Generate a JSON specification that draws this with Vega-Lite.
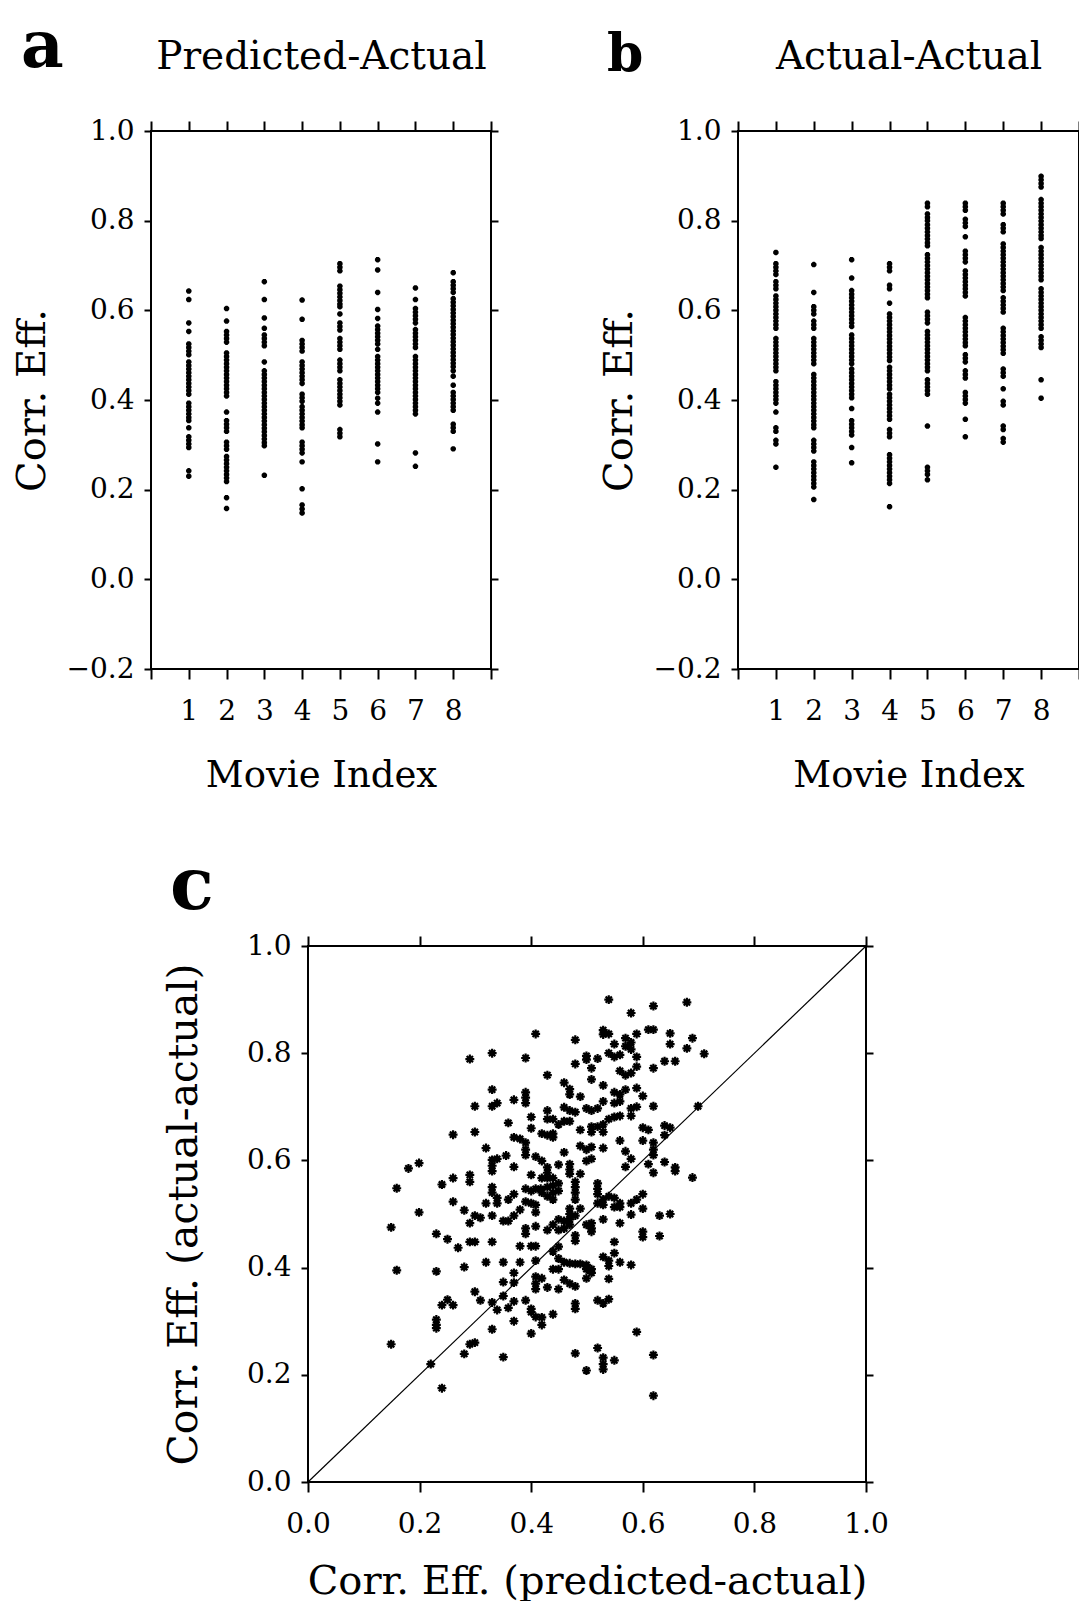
{
"$schema":"https://vega.github.io/schema/vega-lite/v6.json",
"padding":{"left":11,"top":13,"right":0,"bottom":0},
"background":"white",
"config":{"view":{"stroke":null},"font":"DejaVu Serif",
"axis":{"domain":false,"grid":false,"tickColor":"black","tickWidth":2,"labelColor":"black","titleColor":"black","labelFont":"DejaVu Serif","titleFont":"DejaVu Serif","labelFontSize":28,"titleFontSize":37,"titleFontWeight":"normal","labelFlush":false,"labelOverlap":false,"labelBound":false},
"title":{"font":"DejaVu Serif","color":"black"}},
"datasets":{
"pa":[
{"m":1,"r":0.643},{"m":1,"r":0.624},{"m":1,"r":0.572},{"m":1,"r":0.553},{"m":1,"r":0.525},{"m":1,"r":0.517},{"m":1,"r":0.509},{"m":1,"r":0.501},{"m":1,"r":0.485},{"m":1,"r":0.477},{"m":1,"r":0.469},{"m":1,"r":0.461},{"m":1,"r":0.453},{"m":1,"r":0.445},{"m":1,"r":0.437},{"m":1,"r":0.429},{"m":1,"r":0.421},{"m":1,"r":0.413},{"m":1,"r":0.393},{"m":1,"r":0.385},{"m":1,"r":0.377},{"m":1,"r":0.369},{"m":1,"r":0.361},{"m":1,"r":0.354},{"m":1,"r":0.338},{"m":1,"r":0.318},{"m":1,"r":0.31},{"m":1,"r":0.302},{"m":1,"r":0.294},{"m":1,"r":0.242},{"m":1,"r":0.23},
{"m":2,"r":0.604},{"m":2,"r":0.576},{"m":2,"r":0.553},{"m":2,"r":0.545},{"m":2,"r":0.537},{"m":2,"r":0.529},{"m":2,"r":0.505},{"m":2,"r":0.497},{"m":2,"r":0.489},{"m":2,"r":0.481},{"m":2,"r":0.473},{"m":2,"r":0.465},{"m":2,"r":0.457},{"m":2,"r":0.449},{"m":2,"r":0.441},{"m":2,"r":0.433},{"m":2,"r":0.425},{"m":2,"r":0.417},{"m":2,"r":0.409},{"m":2,"r":0.373},{"m":2,"r":0.354},{"m":2,"r":0.346},{"m":2,"r":0.338},{"m":2,"r":0.33},{"m":2,"r":0.306},{"m":2,"r":0.298},{"m":2,"r":0.29},{"m":2,"r":0.274},{"m":2,"r":0.266},{"m":2,"r":0.258},{"m":2,"r":0.25},{"m":2,"r":0.242},{"m":2,"r":0.234},{"m":2,"r":0.226},{"m":2,"r":0.218},{"m":2,"r":0.182},{"m":2,"r":0.158},
{"m":3,"r":0.664},{"m":3,"r":0.624},{"m":3,"r":0.583},{"m":3,"r":0.56},{"m":3,"r":0.545},{"m":3,"r":0.537},{"m":3,"r":0.529},{"m":3,"r":0.521},{"m":3,"r":0.485},{"m":3,"r":0.465},{"m":3,"r":0.457},{"m":3,"r":0.449},{"m":3,"r":0.441},{"m":3,"r":0.433},{"m":3,"r":0.425},{"m":3,"r":0.417},{"m":3,"r":0.409},{"m":3,"r":0.401},{"m":3,"r":0.393},{"m":3,"r":0.385},{"m":3,"r":0.377},{"m":3,"r":0.369},{"m":3,"r":0.361},{"m":3,"r":0.353},{"m":3,"r":0.345},{"m":3,"r":0.337},{"m":3,"r":0.329},{"m":3,"r":0.321},{"m":3,"r":0.313},{"m":3,"r":0.305},{"m":3,"r":0.298},{"m":3,"r":0.232},
{"m":4,"r":0.623},{"m":4,"r":0.58},{"m":4,"r":0.533},{"m":4,"r":0.525},{"m":4,"r":0.517},{"m":4,"r":0.509},{"m":4,"r":0.485},{"m":4,"r":0.477},{"m":4,"r":0.469},{"m":4,"r":0.461},{"m":4,"r":0.453},{"m":4,"r":0.445},{"m":4,"r":0.437},{"m":4,"r":0.413},{"m":4,"r":0.405},{"m":4,"r":0.397},{"m":4,"r":0.385},{"m":4,"r":0.377},{"m":4,"r":0.369},{"m":4,"r":0.361},{"m":4,"r":0.353},{"m":4,"r":0.345},{"m":4,"r":0.338},{"m":4,"r":0.306},{"m":4,"r":0.298},{"m":4,"r":0.29},{"m":4,"r":0.282},{"m":4,"r":0.262},{"m":4,"r":0.202},{"m":4,"r":0.166},{"m":4,"r":0.157},{"m":4,"r":0.148},
{"m":5,"r":0.704},{"m":5,"r":0.696},{"m":5,"r":0.688},{"m":5,"r":0.654},{"m":5,"r":0.646},{"m":5,"r":0.638},{"m":5,"r":0.63},{"m":5,"r":0.622},{"m":5,"r":0.614},{"m":5,"r":0.608},{"m":5,"r":0.592},{"m":5,"r":0.572},{"m":5,"r":0.564},{"m":5,"r":0.556},{"m":5,"r":0.537},{"m":5,"r":0.529},{"m":5,"r":0.521},{"m":5,"r":0.513},{"m":5,"r":0.489},{"m":5,"r":0.481},{"m":5,"r":0.473},{"m":5,"r":0.465},{"m":5,"r":0.445},{"m":5,"r":0.437},{"m":5,"r":0.429},{"m":5,"r":0.421},{"m":5,"r":0.413},{"m":5,"r":0.405},{"m":5,"r":0.397},{"m":5,"r":0.389},{"m":5,"r":0.334},{"m":5,"r":0.326},{"m":5,"r":0.318},
{"m":6,"r":0.713},{"m":6,"r":0.69},{"m":6,"r":0.64},{"m":6,"r":0.602},{"m":6,"r":0.582},{"m":6,"r":0.565},{"m":6,"r":0.557},{"m":6,"r":0.549},{"m":6,"r":0.541},{"m":6,"r":0.533},{"m":6,"r":0.525},{"m":6,"r":0.513},{"m":6,"r":0.497},{"m":6,"r":0.489},{"m":6,"r":0.481},{"m":6,"r":0.473},{"m":6,"r":0.465},{"m":6,"r":0.457},{"m":6,"r":0.449},{"m":6,"r":0.441},{"m":6,"r":0.433},{"m":6,"r":0.425},{"m":6,"r":0.417},{"m":6,"r":0.404},{"m":6,"r":0.393},{"m":6,"r":0.373},{"m":6,"r":0.302},{"m":6,"r":0.262},
{"m":7,"r":0.65},{"m":7,"r":0.624},{"m":7,"r":0.604},{"m":7,"r":0.596},{"m":7,"r":0.588},{"m":7,"r":0.58},{"m":7,"r":0.572},{"m":7,"r":0.557},{"m":7,"r":0.549},{"m":7,"r":0.541},{"m":7,"r":0.533},{"m":7,"r":0.525},{"m":7,"r":0.517},{"m":7,"r":0.497},{"m":7,"r":0.489},{"m":7,"r":0.481},{"m":7,"r":0.473},{"m":7,"r":0.465},{"m":7,"r":0.457},{"m":7,"r":0.449},{"m":7,"r":0.441},{"m":7,"r":0.433},{"m":7,"r":0.425},{"m":7,"r":0.417},{"m":7,"r":0.409},{"m":7,"r":0.401},{"m":7,"r":0.393},{"m":7,"r":0.385},{"m":7,"r":0.377},{"m":7,"r":0.369},{"m":7,"r":0.282},{"m":7,"r":0.252},
{"m":8,"r":0.684},{"m":8,"r":0.664},{"m":8,"r":0.656},{"m":8,"r":0.648},{"m":8,"r":0.64},{"m":8,"r":0.626},{"m":8,"r":0.618},{"m":8,"r":0.61},{"m":8,"r":0.602},{"m":8,"r":0.594},{"m":8,"r":0.586},{"m":8,"r":0.578},{"m":8,"r":0.57},{"m":8,"r":0.562},{"m":8,"r":0.554},{"m":8,"r":0.546},{"m":8,"r":0.538},{"m":8,"r":0.53},{"m":8,"r":0.522},{"m":8,"r":0.514},{"m":8,"r":0.506},{"m":8,"r":0.498},{"m":8,"r":0.49},{"m":8,"r":0.482},{"m":8,"r":0.474},{"m":8,"r":0.465},{"m":8,"r":0.453},{"m":8,"r":0.433},{"m":8,"r":0.417},{"m":8,"r":0.409},{"m":8,"r":0.401},{"m":8,"r":0.393},{"m":8,"r":0.385},{"m":8,"r":0.377},{"m":8,"r":0.346},{"m":8,"r":0.338},{"m":8,"r":0.33},{"m":8,"r":0.291}
],
"pb":[
{"m":1,"r":0.729},{"m":1,"r":0.704},{"m":1,"r":0.696},{"m":1,"r":0.688},{"m":1,"r":0.68},{"m":1,"r":0.664},{"m":1,"r":0.656},{"m":1,"r":0.648},{"m":1,"r":0.632},{"m":1,"r":0.624},{"m":1,"r":0.616},{"m":1,"r":0.608},{"m":1,"r":0.6},{"m":1,"r":0.592},{"m":1,"r":0.584},{"m":1,"r":0.576},{"m":1,"r":0.568},{"m":1,"r":0.56},{"m":1,"r":0.537},{"m":1,"r":0.529},{"m":1,"r":0.521},{"m":1,"r":0.513},{"m":1,"r":0.505},{"m":1,"r":0.497},{"m":1,"r":0.489},{"m":1,"r":0.481},{"m":1,"r":0.473},{"m":1,"r":0.465},{"m":1,"r":0.441},{"m":1,"r":0.433},{"m":1,"r":0.425},{"m":1,"r":0.417},{"m":1,"r":0.409},{"m":1,"r":0.401},{"m":1,"r":0.393},{"m":1,"r":0.373},{"m":1,"r":0.338},{"m":1,"r":0.33},{"m":1,"r":0.31},{"m":1,"r":0.302},{"m":1,"r":0.25},
{"m":2,"r":0.702},{"m":2,"r":0.64},{"m":2,"r":0.608},{"m":2,"r":0.6},{"m":2,"r":0.592},{"m":2,"r":0.576},{"m":2,"r":0.568},{"m":2,"r":0.56},{"m":2,"r":0.537},{"m":2,"r":0.529},{"m":2,"r":0.521},{"m":2,"r":0.513},{"m":2,"r":0.505},{"m":2,"r":0.497},{"m":2,"r":0.489},{"m":2,"r":0.481},{"m":2,"r":0.457},{"m":2,"r":0.449},{"m":2,"r":0.441},{"m":2,"r":0.433},{"m":2,"r":0.425},{"m":2,"r":0.417},{"m":2,"r":0.409},{"m":2,"r":0.401},{"m":2,"r":0.393},{"m":2,"r":0.385},{"m":2,"r":0.377},{"m":2,"r":0.369},{"m":2,"r":0.361},{"m":2,"r":0.353},{"m":2,"r":0.345},{"m":2,"r":0.338},{"m":2,"r":0.31},{"m":2,"r":0.302},{"m":2,"r":0.294},{"m":2,"r":0.286},{"m":2,"r":0.262},{"m":2,"r":0.254},{"m":2,"r":0.246},{"m":2,"r":0.238},{"m":2,"r":0.23},{"m":2,"r":0.222},{"m":2,"r":0.214},{"m":2,"r":0.206},{"m":2,"r":0.178},
{"m":3,"r":0.713},{"m":3,"r":0.672},{"m":3,"r":0.644},{"m":3,"r":0.636},{"m":3,"r":0.628},{"m":3,"r":0.62},{"m":3,"r":0.612},{"m":3,"r":0.604},{"m":3,"r":0.596},{"m":3,"r":0.588},{"m":3,"r":0.58},{"m":3,"r":0.572},{"m":3,"r":0.564},{"m":3,"r":0.545},{"m":3,"r":0.537},{"m":3,"r":0.529},{"m":3,"r":0.521},{"m":3,"r":0.513},{"m":3,"r":0.505},{"m":3,"r":0.497},{"m":3,"r":0.489},{"m":3,"r":0.481},{"m":3,"r":0.469},{"m":3,"r":0.461},{"m":3,"r":0.453},{"m":3,"r":0.445},{"m":3,"r":0.437},{"m":3,"r":0.429},{"m":3,"r":0.421},{"m":3,"r":0.413},{"m":3,"r":0.405},{"m":3,"r":0.381},{"m":3,"r":0.354},{"m":3,"r":0.346},{"m":3,"r":0.338},{"m":3,"r":0.33},{"m":3,"r":0.322},{"m":3,"r":0.294},{"m":3,"r":0.26},
{"m":4,"r":0.704},{"m":4,"r":0.696},{"m":4,"r":0.688},{"m":4,"r":0.656},{"m":4,"r":0.648},{"m":4,"r":0.616},{"m":4,"r":0.592},{"m":4,"r":0.584},{"m":4,"r":0.576},{"m":4,"r":0.568},{"m":4,"r":0.56},{"m":4,"r":0.552},{"m":4,"r":0.544},{"m":4,"r":0.536},{"m":4,"r":0.528},{"m":4,"r":0.52},{"m":4,"r":0.512},{"m":4,"r":0.504},{"m":4,"r":0.496},{"m":4,"r":0.488},{"m":4,"r":0.473},{"m":4,"r":0.465},{"m":4,"r":0.457},{"m":4,"r":0.449},{"m":4,"r":0.441},{"m":4,"r":0.433},{"m":4,"r":0.425},{"m":4,"r":0.413},{"m":4,"r":0.405},{"m":4,"r":0.397},{"m":4,"r":0.389},{"m":4,"r":0.381},{"m":4,"r":0.373},{"m":4,"r":0.365},{"m":4,"r":0.357},{"m":4,"r":0.334},{"m":4,"r":0.326},{"m":4,"r":0.318},{"m":4,"r":0.278},{"m":4,"r":0.27},{"m":4,"r":0.262},{"m":4,"r":0.254},{"m":4,"r":0.246},{"m":4,"r":0.238},{"m":4,"r":0.23},{"m":4,"r":0.222},{"m":4,"r":0.214},{"m":4,"r":0.162},
{"m":5,"r":0.839},{"m":5,"r":0.831},{"m":5,"r":0.815},{"m":5,"r":0.807},{"m":5,"r":0.8},{"m":5,"r":0.791},{"m":5,"r":0.783},{"m":5,"r":0.775},{"m":5,"r":0.767},{"m":5,"r":0.759},{"m":5,"r":0.751},{"m":5,"r":0.744},{"m":5,"r":0.724},{"m":5,"r":0.716},{"m":5,"r":0.708},{"m":5,"r":0.7},{"m":5,"r":0.692},{"m":5,"r":0.684},{"m":5,"r":0.676},{"m":5,"r":0.668},{"m":5,"r":0.66},{"m":5,"r":0.652},{"m":5,"r":0.644},{"m":5,"r":0.636},{"m":5,"r":0.628},{"m":5,"r":0.596},{"m":5,"r":0.588},{"m":5,"r":0.58},{"m":5,"r":0.572},{"m":5,"r":0.553},{"m":5,"r":0.545},{"m":5,"r":0.537},{"m":5,"r":0.529},{"m":5,"r":0.521},{"m":5,"r":0.513},{"m":5,"r":0.505},{"m":5,"r":0.497},{"m":5,"r":0.489},{"m":5,"r":0.481},{"m":5,"r":0.473},{"m":5,"r":0.465},{"m":5,"r":0.445},{"m":5,"r":0.437},{"m":5,"r":0.429},{"m":5,"r":0.421},{"m":5,"r":0.413},{"m":5,"r":0.342},{"m":5,"r":0.25},{"m":5,"r":0.242},{"m":5,"r":0.234},{"m":5,"r":0.222},
{"m":6,"r":0.839},{"m":6,"r":0.831},{"m":6,"r":0.823},{"m":6,"r":0.803},{"m":6,"r":0.795},{"m":6,"r":0.787},{"m":6,"r":0.764},{"m":6,"r":0.732},{"m":6,"r":0.724},{"m":6,"r":0.716},{"m":6,"r":0.708},{"m":6,"r":0.688},{"m":6,"r":0.68},{"m":6,"r":0.672},{"m":6,"r":0.664},{"m":6,"r":0.656},{"m":6,"r":0.648},{"m":6,"r":0.64},{"m":6,"r":0.632},{"m":6,"r":0.584},{"m":6,"r":0.576},{"m":6,"r":0.568},{"m":6,"r":0.56},{"m":6,"r":0.552},{"m":6,"r":0.544},{"m":6,"r":0.536},{"m":6,"r":0.528},{"m":6,"r":0.521},{"m":6,"r":0.501},{"m":6,"r":0.493},{"m":6,"r":0.485},{"m":6,"r":0.465},{"m":6,"r":0.457},{"m":6,"r":0.449},{"m":6,"r":0.417},{"m":6,"r":0.409},{"m":6,"r":0.401},{"m":6,"r":0.393},{"m":6,"r":0.357},{"m":6,"r":0.318},
{"m":7,"r":0.839},{"m":7,"r":0.831},{"m":7,"r":0.823},{"m":7,"r":0.815},{"m":7,"r":0.791},{"m":7,"r":0.783},{"m":7,"r":0.775},{"m":7,"r":0.748},{"m":7,"r":0.74},{"m":7,"r":0.732},{"m":7,"r":0.724},{"m":7,"r":0.716},{"m":7,"r":0.708},{"m":7,"r":0.7},{"m":7,"r":0.692},{"m":7,"r":0.684},{"m":7,"r":0.676},{"m":7,"r":0.668},{"m":7,"r":0.66},{"m":7,"r":0.652},{"m":7,"r":0.644},{"m":7,"r":0.628},{"m":7,"r":0.62},{"m":7,"r":0.612},{"m":7,"r":0.604},{"m":7,"r":0.596},{"m":7,"r":0.56},{"m":7,"r":0.552},{"m":7,"r":0.544},{"m":7,"r":0.536},{"m":7,"r":0.528},{"m":7,"r":0.52},{"m":7,"r":0.512},{"m":7,"r":0.504},{"m":7,"r":0.469},{"m":7,"r":0.461},{"m":7,"r":0.453},{"m":7,"r":0.425},{"m":7,"r":0.397},{"m":7,"r":0.389},{"m":7,"r":0.342},{"m":7,"r":0.334},{"m":7,"r":0.314},{"m":7,"r":0.306},
{"m":8,"r":0.899},{"m":8,"r":0.891},{"m":8,"r":0.883},{"m":8,"r":0.875},{"m":8,"r":0.847},{"m":8,"r":0.839},{"m":8,"r":0.831},{"m":8,"r":0.823},{"m":8,"r":0.815},{"m":8,"r":0.807},{"m":8,"r":0.799},{"m":8,"r":0.791},{"m":8,"r":0.783},{"m":8,"r":0.775},{"m":8,"r":0.767},{"m":8,"r":0.76},{"m":8,"r":0.74},{"m":8,"r":0.732},{"m":8,"r":0.724},{"m":8,"r":0.716},{"m":8,"r":0.708},{"m":8,"r":0.7},{"m":8,"r":0.692},{"m":8,"r":0.684},{"m":8,"r":0.676},{"m":8,"r":0.668},{"m":8,"r":0.648},{"m":8,"r":0.64},{"m":8,"r":0.632},{"m":8,"r":0.624},{"m":8,"r":0.616},{"m":8,"r":0.608},{"m":8,"r":0.6},{"m":8,"r":0.592},{"m":8,"r":0.584},{"m":8,"r":0.576},{"m":8,"r":0.568},{"m":8,"r":0.56},{"m":8,"r":0.541},{"m":8,"r":0.533},{"m":8,"r":0.525},{"m":8,"r":0.517},{"m":8,"r":0.445},{"m":8,"r":0.404}
],
"pc":[
{"x":0.539,"y":0.9},{"x":0.619,"y":0.888},{"x":0.679,"y":0.895},{"x":0.579,"y":0.875},{"x":0.408,"y":0.836},{"x":0.479,"y":0.825},{"x":0.529,"y":0.843},{"x":0.529,"y":0.835},{"x":0.539,"y":0.836},{"x":0.61,"y":0.844},{"x":0.619,"y":0.844},{"x":0.589,"y":0.836},{"x":0.649,"y":0.837},{"x":0.649,"y":0.817},{"x":0.689,"y":0.828},{"x":0.679,"y":0.809},{"x":0.71,"y":0.799},{"x":0.569,"y":0.828},{"x":0.579,"y":0.82},{"x":0.569,"y":0.813},{"x":0.549,"y":0.817},{"x":0.559,"y":0.797},{"x":0.549,"y":0.793},{"x":0.539,"y":0.8},{"x":0.579,"y":0.807},{"x":0.589,"y":0.793},{"x":0.29,"y":0.789},{"x":0.33,"y":0.8},{"x":0.39,"y":0.791},{"x":0.499,"y":0.795},{"x":0.499,"y":0.788},{"x":0.519,"y":0.79},{"x":0.479,"y":0.78},{"x":0.508,"y":0.772},{"x":0.639,"y":0.785},{"x":0.658,"y":0.785},{"x":0.619,"y":0.772},{"x":0.589,"y":0.775},{"x":0.559,"y":0.767},{"x":0.569,"y":0.759},{"x":0.579,"y":0.763},{"x":0.429,"y":0.759},{"x":0.508,"y":0.751},{"x":0.459,"y":0.745},{"x":0.469,"y":0.733},{"x":0.469,"y":0.723},{"x":0.529,"y":0.74},{"x":0.488,"y":0.719},{"x":0.569,"y":0.732},{"x":0.559,"y":0.723},{"x":0.549,"y":0.727},{"x":0.589,"y":0.735},{"x":0.6,"y":0.72},{"x":0.33,"y":0.732},{"x":0.39,"y":0.727},{"x":0.39,"y":0.717},{"x":0.39,"y":0.707},{"x":0.369,"y":0.713},{"x":0.339,"y":0.707},{"x":0.33,"y":0.701},{"x":0.299,"y":0.701},{"x":0.619,"y":0.701},{"x":0.549,"y":0.707},{"x":0.559,"y":0.71},{"x":0.529,"y":0.71},{"x":0.519,"y":0.697},{"x":0.508,"y":0.693},{"x":0.499,"y":0.697},{"x":0.479,"y":0.69},{"x":0.469,"y":0.693},{"x":0.459,"y":0.699},{"x":0.579,"y":0.697},{"x":0.589,"y":0.7},{"x":0.579,"y":0.683},{"x":0.429,"y":0.693},{"x":0.429,"y":0.677},{"x":0.439,"y":0.677},{"x":0.449,"y":0.667},{"x":0.459,"y":0.673},{"x":0.469,"y":0.673},{"x":0.4,"y":0.681},{"x":0.4,"y":0.66},{"x":0.359,"y":0.67},{"x":0.549,"y":0.681},{"x":0.539,"y":0.677},{"x":0.559,"y":0.683},{"x":0.529,"y":0.667},{"x":0.519,"y":0.663},{"x":0.508,"y":0.663},{"x":0.508,"y":0.653},{"x":0.529,"y":0.653},{"x":0.488,"y":0.657},{"x":0.419,"y":0.65},{"x":0.429,"y":0.647},{"x":0.439,"y":0.643},{"x":0.439,"y":0.65},{"x":0.639,"y":0.665},{"x":0.649,"y":0.661},{"x":0.6,"y":0.661},{"x":0.61,"y":0.657},{"x":0.639,"y":0.647},{"x":0.26,"y":0.648},{"x":0.299,"y":0.653},{"x":0.369,"y":0.643},{"x":0.38,"y":0.64},{"x":0.39,"y":0.633},{"x":0.39,"y":0.62},{"x":0.39,"y":0.61},{"x":0.319,"y":0.623},{"x":0.559,"y":0.637},{"x":0.6,"y":0.637},{"x":0.619,"y":0.633},{"x":0.619,"y":0.62},{"x":0.619,"y":0.61},{"x":0.488,"y":0.627},{"x":0.508,"y":0.625},{"x":0.499,"y":0.62},{"x":0.529,"y":0.623},{"x":0.459,"y":0.615},{"x":0.569,"y":0.617},{"x":0.579,"y":0.603},{"x":0.508,"y":0.603},{"x":0.499,"y":0.599},{"x":0.408,"y":0.607},{"x":0.419,"y":0.599},{"x":0.429,"y":0.587},{"x":0.429,"y":0.577},{"x":0.439,"y":0.567},{"x":0.429,"y":0.567},{"x":0.419,"y":0.567},{"x":0.449,"y":0.592},{"x":0.469,"y":0.593},{"x":0.469,"y":0.583},{"x":0.355,"y":0.609},{"x":0.339,"y":0.603},{"x":0.33,"y":0.601},{"x":0.33,"y":0.59},{"x":0.33,"y":0.58},{"x":0.369,"y":0.588},{"x":0.61,"y":0.593},{"x":0.639,"y":0.597},{"x":0.658,"y":0.587},{"x":0.658,"y":0.58},{"x":0.619,"y":0.577},{"x":0.689,"y":0.568},{"x":0.569,"y":0.588},{"x":0.199,"y":0.595},{"x":0.18,"y":0.585},{"x":0.159,"y":0.548},{"x":0.24,"y":0.555},{"x":0.26,"y":0.567},{"x":0.29,"y":0.573},{"x":0.29,"y":0.56},{"x":0.4,"y":0.573},{"x":0.469,"y":0.575},{"x":0.488,"y":0.575},{"x":0.479,"y":0.56},{"x":0.479,"y":0.55},{"x":0.479,"y":0.54},{"x":0.479,"y":0.527},{"x":0.519,"y":0.557},{"x":0.519,"y":0.547},{"x":0.519,"y":0.537},{"x":0.429,"y":0.55},{"x":0.439,"y":0.553},{"x":0.449,"y":0.557},{"x":0.429,"y":0.533},{"x":0.439,"y":0.54},{"x":0.449,"y":0.543},{"x":0.419,"y":0.54},{"x":0.439,"y":0.527},{"x":0.39,"y":0.547},{"x":0.4,"y":0.543},{"x":0.408,"y":0.547},{"x":0.417,"y":0.547},{"x":0.33,"y":0.55},{"x":0.33,"y":0.54},{"x":0.339,"y":0.53},{"x":0.339,"y":0.52},{"x":0.319,"y":0.52},{"x":0.359,"y":0.527},{"x":0.369,"y":0.537},{"x":0.39,"y":0.523},{"x":0.4,"y":0.52},{"x":0.408,"y":0.517},{"x":0.408,"y":0.503},{"x":0.26,"y":0.523},{"x":0.199,"y":0.503},{"x":0.539,"y":0.533},{"x":0.549,"y":0.53},{"x":0.559,"y":0.52},{"x":0.549,"y":0.513},{"x":0.559,"y":0.513},{"x":0.529,"y":0.517},{"x":0.529,"y":0.527},{"x":0.519,"y":0.52},{"x":0.6,"y":0.537},{"x":0.579,"y":0.52},{"x":0.589,"y":0.527},{"x":0.6,"y":0.51},{"x":0.469,"y":0.51},{"x":0.469,"y":0.5},{"x":0.469,"y":0.49},{"x":0.479,"y":0.497},{"x":0.488,"y":0.51},{"x":0.459,"y":0.487},{"x":0.449,"y":0.49},{"x":0.439,"y":0.48},{"x":0.449,"y":0.47},{"x":0.459,"y":0.473},{"x":0.469,"y":0.48},{"x":0.429,"y":0.47},{"x":0.38,"y":0.508},{"x":0.369,"y":0.497},{"x":0.359,"y":0.487},{"x":0.35,"y":0.487},{"x":0.33,"y":0.497},{"x":0.309,"y":0.493},{"x":0.299,"y":0.497},{"x":0.28,"y":0.507},{"x":0.29,"y":0.483},{"x":0.39,"y":0.473},{"x":0.39,"y":0.463},{"x":0.408,"y":0.477},{"x":0.499,"y":0.48},{"x":0.508,"y":0.473},{"x":0.508,"y":0.483},{"x":0.508,"y":0.467},{"x":0.529,"y":0.49},{"x":0.559,"y":0.483},{"x":0.579,"y":0.499},{"x":0.63,"y":0.497},{"x":0.649,"y":0.5},{"x":0.6,"y":0.467},{"x":0.6,"y":0.457},{"x":0.63,"y":0.459},{"x":0.479,"y":0.46},{"x":0.479,"y":0.45},{"x":0.149,"y":0.475},{"x":0.23,"y":0.463},{"x":0.25,"y":0.453},{"x":0.269,"y":0.437},{"x":0.29,"y":0.448},{"x":0.299,"y":0.448},{"x":0.33,"y":0.448},{"x":0.38,"y":0.44},{"x":0.4,"y":0.44},{"x":0.408,"y":0.44},{"x":0.449,"y":0.439},{"x":0.549,"y":0.448},{"x":0.159,"y":0.395},{"x":0.23,"y":0.393},{"x":0.28,"y":0.401},{"x":0.319,"y":0.41},{"x":0.35,"y":0.41},{"x":0.38,"y":0.41},{"x":0.408,"y":0.413},{"x":0.439,"y":0.43},{"x":0.449,"y":0.417},{"x":0.459,"y":0.41},{"x":0.469,"y":0.408},{"x":0.479,"y":0.407},{"x":0.488,"y":0.407},{"x":0.499,"y":0.405},{"x":0.499,"y":0.397},{"x":0.508,"y":0.397},{"x":0.449,"y":0.397},{"x":0.439,"y":0.397},{"x":0.529,"y":0.42},{"x":0.539,"y":0.413},{"x":0.539,"y":0.403},{"x":0.549,"y":0.427},{"x":0.559,"y":0.41},{"x":0.579,"y":0.405},{"x":0.369,"y":0.39},{"x":0.35,"y":0.373},{"x":0.369,"y":0.372},{"x":0.408,"y":0.383},{"x":0.419,"y":0.38},{"x":0.408,"y":0.37},{"x":0.408,"y":0.36},{"x":0.429,"y":0.363},{"x":0.449,"y":0.36},{"x":0.459,"y":0.377},{"x":0.469,"y":0.37},{"x":0.479,"y":0.365},{"x":0.499,"y":0.38},{"x":0.508,"y":0.39},{"x":0.539,"y":0.379},{"x":0.299,"y":0.355},{"x":0.309,"y":0.339},{"x":0.33,"y":0.335},{"x":0.339,"y":0.321},{"x":0.35,"y":0.347},{"x":0.359,"y":0.325},{"x":0.369,"y":0.337},{"x":0.39,"y":0.339},{"x":0.4,"y":0.323},{"x":0.4,"y":0.317},{"x":0.408,"y":0.308},{"x":0.419,"y":0.307},{"x":0.419,"y":0.293},{"x":0.439,"y":0.313},{"x":0.479,"y":0.333},{"x":0.479,"y":0.323},{"x":0.519,"y":0.339},{"x":0.529,"y":0.333},{"x":0.539,"y":0.341},{"x":0.24,"y":0.33},{"x":0.25,"y":0.34},{"x":0.26,"y":0.33},{"x":0.23,"y":0.303},{"x":0.23,"y":0.293},{"x":0.23,"y":0.287},{"x":0.33,"y":0.285},{"x":0.369,"y":0.3},{"x":0.4,"y":0.277},{"x":0.149,"y":0.257},{"x":0.29,"y":0.257},{"x":0.299,"y":0.26},{"x":0.28,"y":0.239},{"x":0.35,"y":0.233},{"x":0.22,"y":0.22},{"x":0.24,"y":0.175},{"x":0.589,"y":0.28},{"x":0.479,"y":0.24},{"x":0.519,"y":0.25},{"x":0.529,"y":0.232},{"x":0.529,"y":0.22},{"x":0.529,"y":0.21},{"x":0.549,"y":0.227},{"x":0.499,"y":0.208},{"x":0.619,"y":0.237},{"x":0.619,"y":0.161},{"x":0.699,"y":0.701}
],
"diag":[{"x":0,"y":0},{"x":1,"y":1}],
"blank":[{"v":0}]
},
"spacing":56,
"vconcat":[
{"bounds":"flush","spacing":247,"hconcat":[
{"width":340,"height":538,"view":{"stroke":"black","strokeWidth":2},
"title":{"text":"a","anchor":"start","frame":"group","dx":-130,"offset":-96,"fontSize":66,"fontWeight":"bold","baseline":"alphabetic"},
"data":{"name":"pa"},
"layer":[
{"mark":{"type":"point","shape":"M-1,0L1,0M0,-1L0,1M-0.7,-0.7L0.7,0.7M-0.7,0.7L0.7,-0.7","filled":false,"stroke":"black","strokeWidth":2,"size":30,"opacity":1},
"encoding":{"x":{"field":"m","type":"quantitative","scale":{"domain":[0,9],"nice":false,"zero":false},"axis":{"orient":"bottom","values":[0,1,2,3,4,5,6,7,8,9],"labelExpr":"datum.value==0||datum.value==9?'':datum.label","tickSize":10,"labelPadding":18,"title":"Movie Index","titlePadding":32}},
"y":{"field":"r","type":"quantitative","scale":{"domain":[-0.2,1],"nice":false,"zero":false},"axis":{"orient":"left","values":[-0.2,0,0.2,0.4,0.6,0.8,1],"format":".1f","tickSize":7,"labelPadding":10,"title":"Corr. Eff.","titleFontSize":40,"titlePadding":14}}}},
{"mark":{"type":"point","opacity":0},
"encoding":{"x":{"field":"m","type":"quantitative","axis":{"orient":"top","values":[0,1,2,3,4,5,6,7,8,9],"labels":false,"tickSize":10,"title":"Predicted-Actual","titleFontSize":39,"titlePadding":52,"titleBaseline":"alphabetic"}},
"y":{"field":"r","type":"quantitative","axis":{"orient":"right","values":[-0.2,0,0.2,0.4,0.6,0.8,1],"labels":false,"tickSize":7,"title":null}}}}
],
"resolve":{"axis":{"x":"independent","y":"independent"}}},
{"width":341,"height":538,"view":{"stroke":"black","strokeWidth":2},
"title":{"text":"b","anchor":"start","frame":"group","dx":-131,"offset":-86,"fontSize":52,"fontWeight":"bold","baseline":"alphabetic"},
"data":{"name":"pb"},
"layer":[
{"mark":{"type":"point","shape":"M-1,0L1,0M0,-1L0,1M-0.7,-0.7L0.7,0.7M-0.7,0.7L0.7,-0.7","filled":false,"stroke":"black","strokeWidth":2,"size":30,"opacity":1},
"encoding":{"x":{"field":"m","type":"quantitative","scale":{"domain":[0,9],"nice":false,"zero":false},"axis":{"orient":"bottom","values":[0,1,2,3,4,5,6,7,8,9],"labelExpr":"datum.value==0||datum.value==9?'':datum.label","tickSize":10,"labelPadding":18,"title":"Movie Index","titlePadding":32}},
"y":{"field":"r","type":"quantitative","scale":{"domain":[-0.2,1],"nice":false,"zero":false},"axis":{"orient":"left","values":[-0.2,0,0.2,0.4,0.6,0.8,1],"format":".1f","tickSize":7,"labelPadding":10,"title":"Corr. Eff.","titleFontSize":40,"titlePadding":14}}}},
{"mark":{"type":"point","opacity":0},
"encoding":{"x":{"field":"m","type":"quantitative","axis":{"orient":"top","values":[0,1,2,3,4,5,6,7,8,9],"labels":false,"tickSize":10,"title":"Actual-Actual","titleFontSize":39,"titlePadding":52,"titleBaseline":"alphabetic"}},
"y":{"field":"r","type":"quantitative","axis":{"orient":"right","values":[-0.2,0,0.2,0.4,0.6,0.8,1],"labels":false,"tickSize":7,"title":null}}}}
],
"resolve":{"axis":{"x":"independent","y":"independent"}}}
]},
{"bounds":"flush","spacing":0,"hconcat":[
{"width":157,"height":10,"data":{"name":"blank"},"mark":{"type":"point","opacity":0},"encoding":{}},
{"width":558,"height":536,"view":{"stroke":"black","strokeWidth":2},
"title":{"text":"c","anchor":"start","frame":"group","dx":-138,"offset":-49,"fontSize":72,"fontWeight":"bold","baseline":"alphabetic"},
"layer":[
{"data":{"name":"pc"},"mark":{"type":"point","shape":"M-1,0L1,0M0,-1L0,1M-0.7,-0.7L0.7,0.7M-0.7,0.7L0.7,-0.7","filled":false,"stroke":"black","strokeWidth":2.2,"size":80,"opacity":1},
"encoding":{"x":{"field":"x","type":"quantitative","scale":{"domain":[0,1],"nice":false,"zero":false},"axis":{"orient":"bottom","values":[0,0.2,0.4,0.6,0.8,1],"format":".1f","tickSize":10,"labelPadding":18,"title":"Corr. Eff. (predicted-actual)","titleFontSize":40,"titlePadding":23}},
"y":{"field":"y","type":"quantitative","scale":{"domain":[0,1],"nice":false,"zero":false},"axis":{"orient":"left","values":[0,0.2,0.4,0.6,0.8,1],"format":".1f","tickSize":7,"labelPadding":10,"title":"Corr. Eff. (actual-actual)","titleFontSize":41,"titlePadding":41}}}},
{"data":{"name":"diag"},"mark":{"type":"line","color":"black","strokeWidth":1.2},
"encoding":{"x":{"field":"x","type":"quantitative","axis":null},"y":{"field":"y","type":"quantitative","axis":null}}},
{"data":{"name":"diag"},"mark":{"type":"point","opacity":0},
"encoding":{"x":{"field":"x","type":"quantitative","axis":{"orient":"top","values":[0,0.2,0.4,0.6,0.8,1],"labels":false,"tickSize":10,"title":null}},
"y":{"field":"y","type":"quantitative","axis":{"orient":"right","values":[0,0.2,0.4,0.6,0.8,1],"labels":false,"tickSize":7,"title":null}}}}
],
"resolve":{"axis":{"x":"independent","y":"independent"}}}
]}
]
}
